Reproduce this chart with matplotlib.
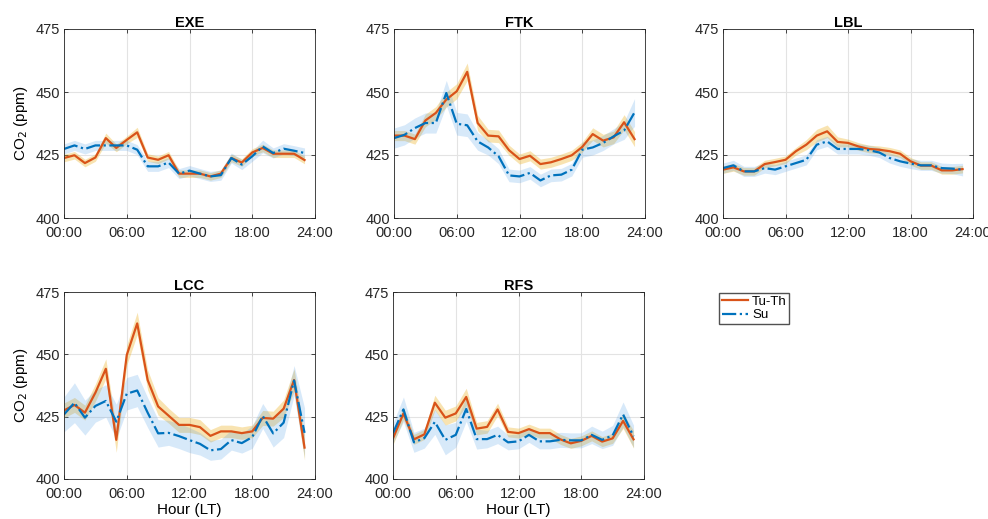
import numpy as np
import matplotlib
matplotlib.use("Agg")
import matplotlib.pyplot as plt

plt.rcParams['font.family'] = ['Liberation Sans', 'DejaVu Sans']

hours = np.arange(24)
stations = ["EXE", "FTK", "LBL", "LCC", "RFS"]

# mean diurnal CO2 (ppm), Tuesday-Thursday and Sunday
exe_tuth = [423.8, 424.9, 421.8, 424.0, 431.7, 427.8, 431.0, 434.0, 424.0, 423.1, 424.9, 417.6,
            417.6, 417.6, 416.5, 417.6, 423.8, 422.0, 426.0, 427.8, 425.5, 425.5, 425.5, 423.0]
exe_su = [427.4, 428.8, 427.4, 428.8, 428.8, 428.8, 428.8, 427.1, 420.5, 420.5, 422.0, 417.6,
          418.8, 417.6, 416.5, 417.0, 423.8, 421.2, 424.5, 428.4, 425.8, 427.5, 426.7, 425.8]
ftk_tuth = [432.7, 432.7, 431.3, 438.7, 441.7, 447.0, 450.3, 458.0, 437.7, 432.7, 432.4, 426.9,
            423.4, 424.7, 421.4, 422.1, 423.4, 424.9, 428.2, 433.3, 430.7, 432.0, 438.0, 431.3]
ftk_su = [431.7, 433.0, 435.7, 437.7, 437.7, 449.6, 437.4, 436.8, 430.4, 428.0, 424.5, 416.9,
          416.5, 417.9, 414.9, 416.9, 417.2, 419.2, 427.1, 428.0, 429.8, 432.4, 434.7, 441.9]
lbl_tuth = [419.2, 420.1, 418.5, 418.5, 421.4, 422.2, 423.1, 426.5, 429.1, 432.7, 434.4, 430.2,
            429.8, 428.4, 427.4, 427.1, 426.5, 425.5, 422.5, 420.8, 420.8, 418.9, 418.9, 419.4]
lbl_su = [419.8, 420.9, 418.5, 418.5, 419.8, 419.2, 420.5, 421.8, 423.1, 429.1, 430.4, 427.4,
          427.4, 427.4, 426.9, 426.0, 423.8, 422.5, 421.6, 420.9, 420.9, 419.8, 419.6, 419.2]
lcc_tuth = [427.5, 429.7, 426.6, 434.6, 444.2, 415.7, 449.7, 462.4, 439.7, 429.1, 425.4, 421.7,
            421.7, 420.8, 417.3, 419.1, 419.1, 418.4, 419.1, 424.5, 424.2, 428.2, 439.7, 412.6]
lcc_su = [425.9, 430.6, 424.6, 429.3, 431.3, 423.0, 434.2, 435.5, 426.6, 418.3, 418.5, 417.2,
          415.6, 414.1, 411.5, 412.0, 415.6, 414.4, 416.8, 425.3, 418.3, 422.6, 439.5, 418.5]
rfs_tuth = [416.3, 426.3, 415.9, 417.9, 430.6, 424.6, 426.3, 432.9, 420.2, 420.9, 427.9, 418.9,
            418.4, 420.0, 418.4, 418.4, 415.9, 414.3, 415.3, 417.3, 415.0, 416.3, 423.3, 415.9]
rfs_su = [418.4, 427.9, 414.7, 416.4, 422.9, 415.7, 417.7, 428.1, 416.0, 416.0, 417.7, 414.7,
          415.1, 417.7, 415.1, 415.1, 415.7, 415.5, 415.5, 417.7, 415.7, 417.5, 425.9, 417.1]

# half-width of the shaded uncertainty bands (ppm)
exe_tuth_err = [1.5, 1.5, 1.5, 1.5, 2.0, 1.5, 1.5, 2.0, 1.5, 1.5, 1.5, 1.5,
                1.5, 1.5, 1.5, 1.5, 1.5, 1.5, 1.5, 1.5, 1.5, 1.5, 1.5, 1.5]
exe_su_err = [2.0, 2.0, 2.0, 2.0, 2.0, 2.0, 2.0, 2.0, 2.0, 2.0, 2.0, 2.0,
              2.0, 2.0, 2.0, 2.0, 2.0, 2.0, 2.0, 2.5, 2.0, 2.0, 2.0, 2.0]
ftk_tuth_err = [2.0, 2.0, 2.0, 2.5, 2.5, 3.0, 3.0, 3.5, 3.0, 2.5, 2.5, 2.0,
                2.0, 2.0, 2.0, 2.0, 2.0, 2.0, 2.0, 2.5, 2.5, 2.5, 3.0, 3.0]
ftk_su_err = [4.0, 4.0, 4.0, 4.0, 4.0, 5.0, 4.5, 4.5, 3.5, 3.0, 3.0, 2.5,
              2.5, 2.5, 2.5, 2.5, 2.5, 2.5, 3.0, 3.0, 3.0, 3.0, 3.5, 5.5]
lbl_tuth_err = [1.5, 1.5, 1.5, 1.5, 1.5, 1.5, 1.5, 1.5, 2.0, 2.5, 2.5, 2.0,
                1.5, 1.5, 1.5, 1.5, 1.5, 1.5, 1.5, 1.5, 1.5, 1.5, 1.5, 1.5]
lbl_su_err = [2.0, 2.0, 2.0, 2.0, 2.0, 2.0, 2.0, 2.0, 2.0, 2.0, 2.0, 2.0,
              2.0, 2.0, 2.0, 2.0, 2.0, 2.0, 2.0, 2.0, 2.0, 2.0, 2.0, 2.5]
lcc_tuth_err = [3.0, 3.0, 3.0, 3.5, 4.0, 5.0, 4.0, 4.5, 4.0, 3.5, 3.0, 3.0,
                3.0, 3.0, 2.5, 2.5, 2.5, 2.5, 2.5, 3.0, 3.0, 3.5, 4.5, 5.0]
lcc_su_err = [7.0, 8.0, 7.0, 6.5, 6.5, 7.0, 6.5, 6.5, 6.0, 5.5, 5.0, 5.0,
              5.0, 4.5, 4.0, 4.0, 4.0, 4.0, 4.5, 5.0, 5.5, 6.0, 6.0, 10.0]
rfs_tuth_err = [2.5, 2.5, 2.0, 2.0, 3.0, 3.0, 3.0, 3.5, 2.5, 2.5, 2.5, 2.0,
                2.0, 2.0, 2.0, 2.0, 2.0, 2.0, 2.0, 2.0, 2.0, 2.0, 3.0, 3.5]
rfs_su_err = [4.0, 5.0, 4.0, 4.0, 5.0, 6.0, 5.0, 5.0, 4.0, 3.5, 3.5, 3.0,
              3.0, 3.0, 3.0, 3.0, 3.0, 3.0, 3.0, 3.5, 3.5, 4.0, 5.0, 4.5]

tuth = [exe_tuth, ftk_tuth, lbl_tuth, lcc_tuth, rfs_tuth]
su = [exe_su, ftk_su, lbl_su, lcc_su, rfs_su]
tuth_err = [exe_tuth_err, ftk_tuth_err, lbl_tuth_err, lcc_tuth_err, rfs_tuth_err]
su_err = [exe_su_err, ftk_su_err, lbl_su_err, lcc_su_err, rfs_su_err]

xticks = [0, 6, 12, 18, 24]
xticklabels = ["00:00", "06:00", "12:00", "18:00", "24:00"]
yticks = [400, 425, 450, 475]

c_tuth = "#D95319"
c_su = "#0072BD"

W, H = 988, 519
fig = plt.figure(figsize=(W / 100, H / 100), dpi=100)

# axes boxes in pixels: left, top, right, bottom
boxes = [(64, 29, 315, 218), (394, 29, 645, 218), (723, 29, 973, 218),
         (64, 292, 315, 479), (393, 292, 644, 479)]

for i, name in enumerate(stations):
    l, t, r, b = boxes[i]
    ax = fig.add_axes([l / W, 1 - b / H, (r - l) / W, (b - t) / H])
    y1 = np.array(tuth[i])
    y2 = np.array(su[i])
    e1 = np.array(tuth_err[i])
    e2 = np.array(su_err[i])
    ax.fill_between(hours, y1 - e1, y1 + e1, color="#EDB120", alpha=0.35, lw=0)
    ax.fill_between(hours, y2 - e2, y2 + e2, color="#4D9BE6", alpha=0.22, lw=0)
    ax.plot(hours, y1, color=c_tuth, lw=1.6, label="Tu-Th")
    ax.plot(hours, y2, color=c_su, lw=1.6, ls="-.", label="Su")
    ax.set_xlim(0, 24)
    ax.set_ylim(400, 475)
    ax.set_xticks(xticks)
    ax.set_xticklabels(xticklabels)
    ax.set_yticks(yticks)
    ax.grid(True, color="#E3E3E3", lw=0.8)
    ax.set_axisbelow(True)
    ax.tick_params(direction="in", length=3, width=0.6, colors="#262626",
                   labelsize=10.5, top=True, right=True, pad=3)
    ax.tick_params(axis="x", pad=6)
    for s in ax.spines.values():
        s.set_color("#262626")
        s.set_linewidth(0.6)
    ax.set_title(name, fontsize=10.5, fontweight="bold", pad=1.5)
    if i in (0, 3):
        ax.set_ylabel("CO$_2$ (ppm)", fontsize=11)
    if i >= 3:
        ax.set_xlabel("Hour (LT)", fontsize=11, labelpad=1)
    if i == 0:
        handles, labels = ax.get_legend_handles_labels()

fig.legend(handles, labels, loc="upper left", bbox_to_anchor=(719 / W, 1 - 293 / H),
           fontsize=9.5, frameon=True, fancybox=False, edgecolor="#262626",
           handlelength=2.0, borderpad=0.2, labelspacing=0.1, handletextpad=0.3,
           borderaxespad=0)

fig.savefig("out.png", dpi=100)
